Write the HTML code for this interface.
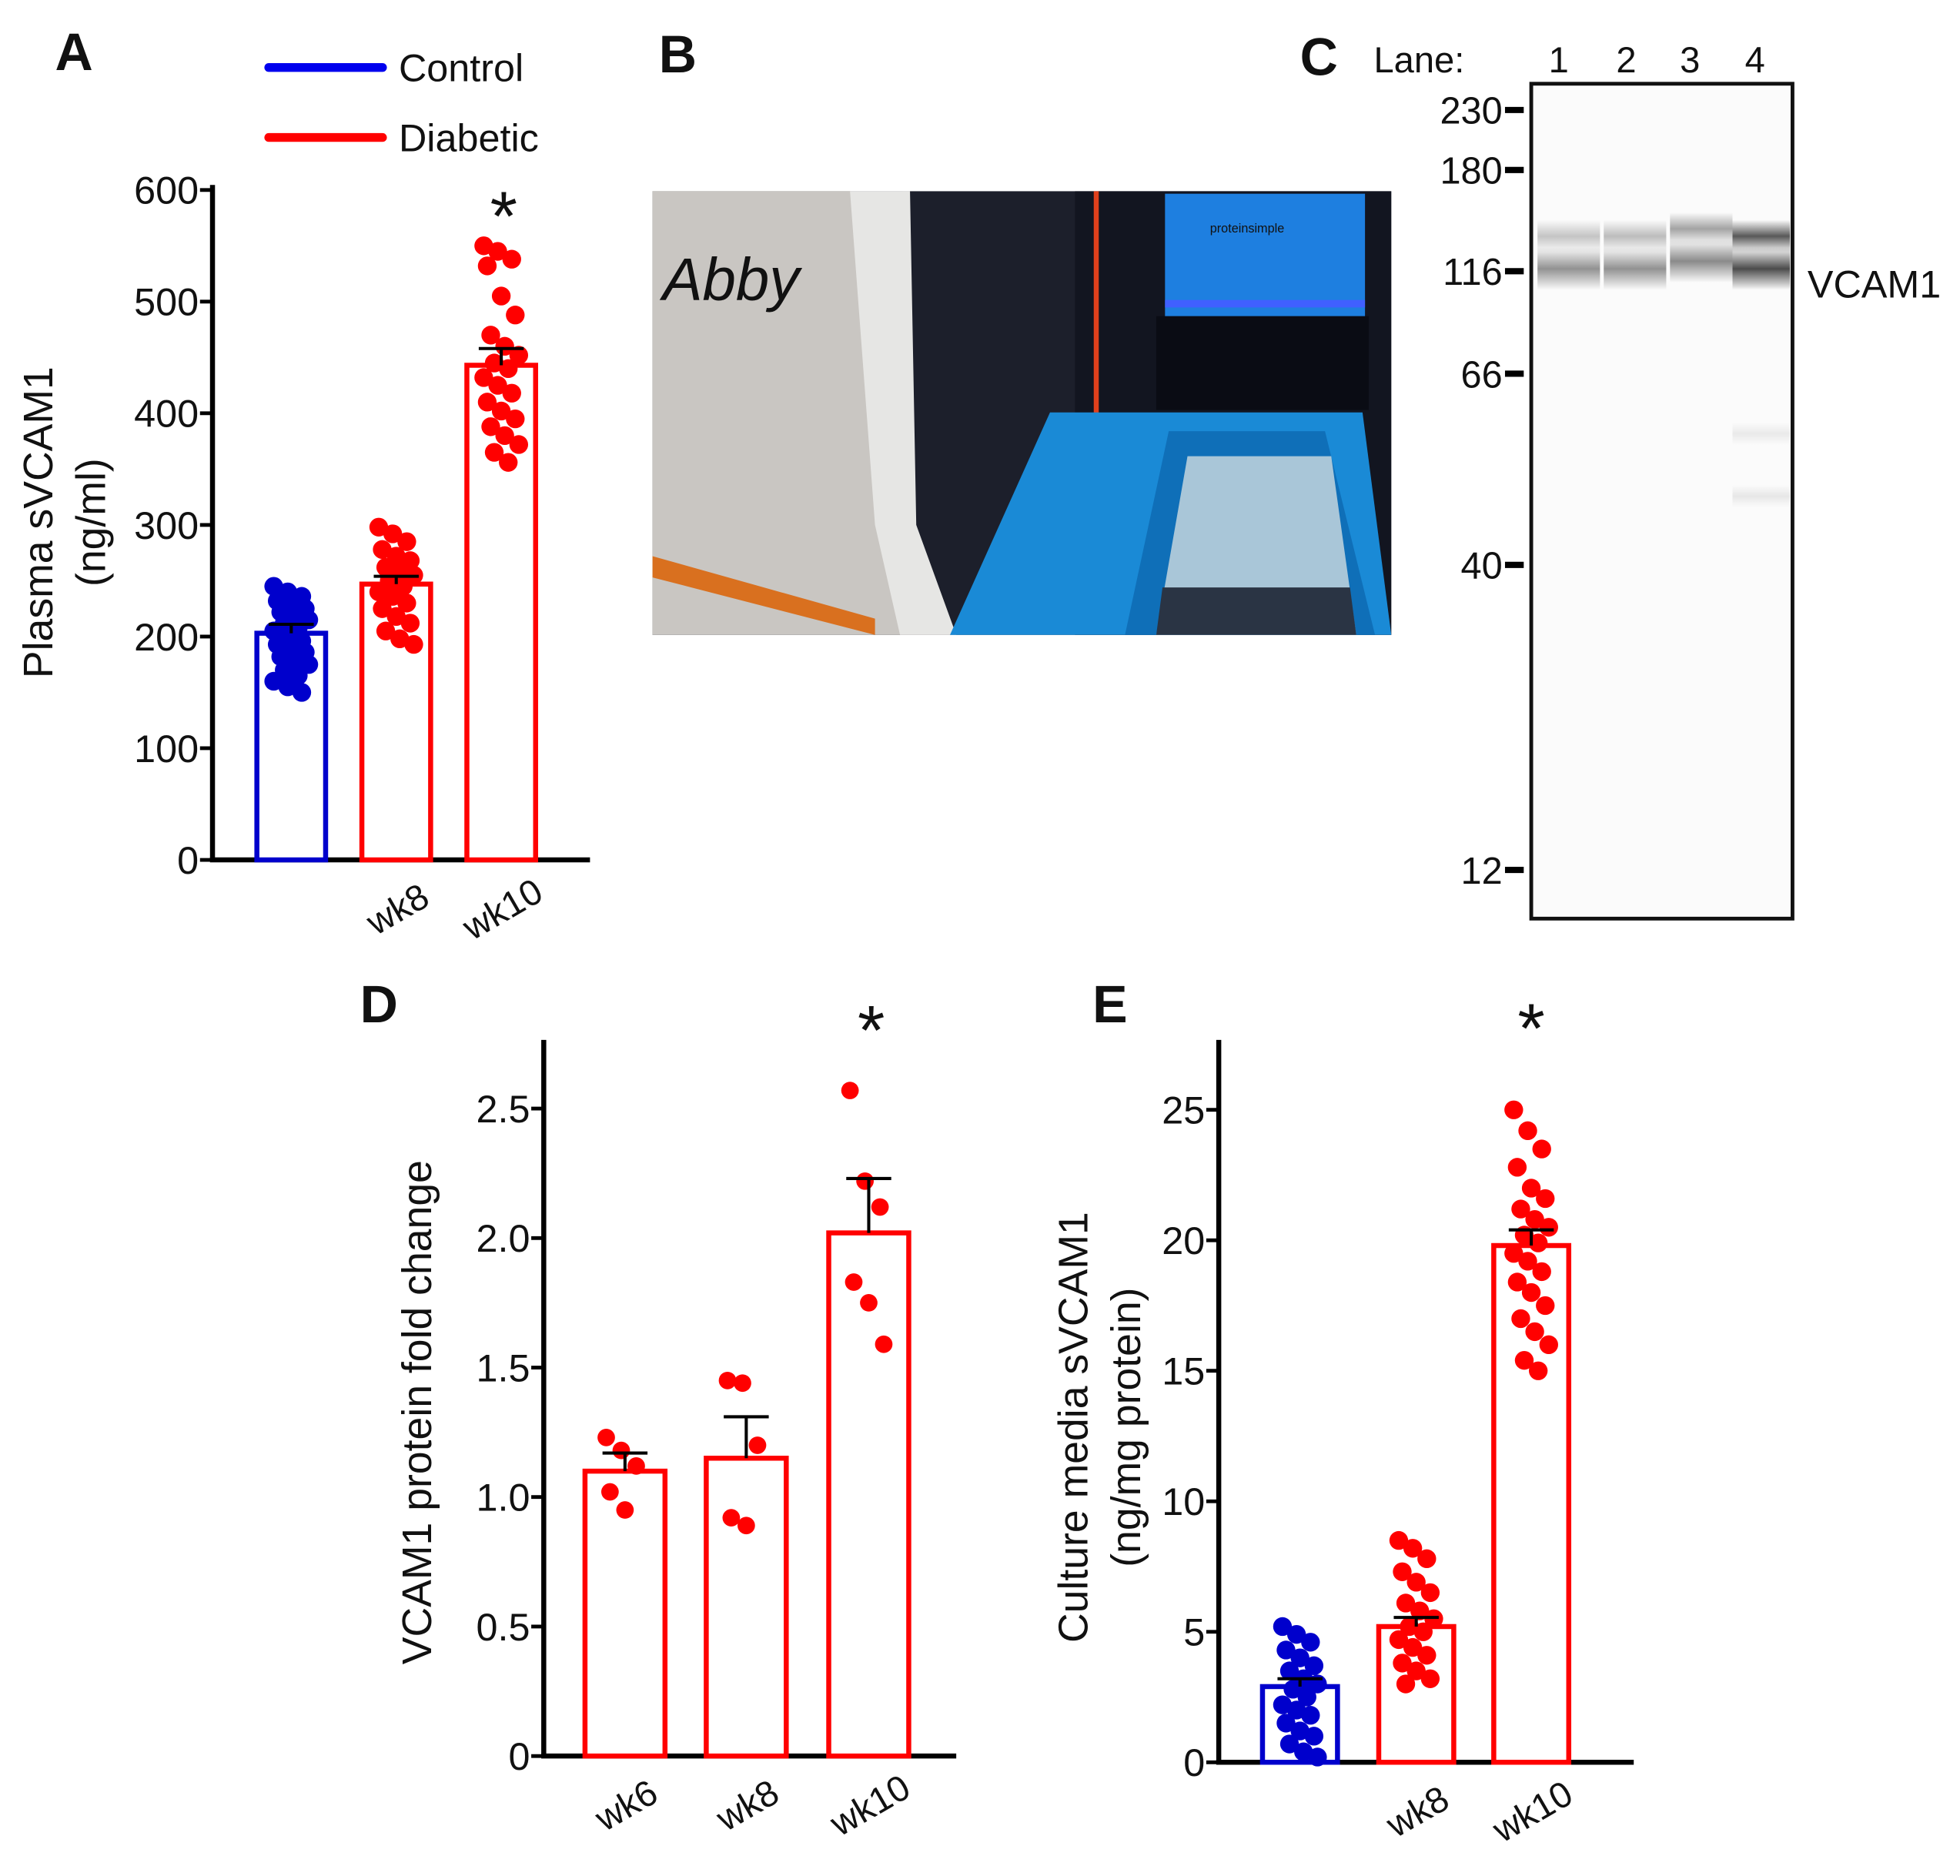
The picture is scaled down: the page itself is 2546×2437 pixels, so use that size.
<!DOCTYPE html>
<html><head><meta charset="utf-8">
<style>
html,body{margin:0;padding:0;background:#fff;}
svg{display:block;}
text{font-family:"Liberation Sans",Arial,sans-serif;fill:#111;}
</style></head>
<body>
<svg id="fig" width="2546" height="2437" viewBox="0 0 1568 1501" preserveAspectRatio="none" xmlns="http://www.w3.org/2000/svg">
<rect x="0" y="0" width="1568" height="1501" fill="#fff"/>
<text x="44" y="56" font-size="42" font-weight="bold">A</text>
<text x="527" y="58" font-size="42" font-weight="bold">B</text>
<text x="1040" y="60" font-size="42" font-weight="bold">C</text>
<text x="288" y="818" font-size="42" font-weight="bold">D</text>
<text x="874" y="818" font-size="42" font-weight="bold">E</text>

<g>
<line x1="215" y1="54" x2="306" y2="54" stroke="#0000ee" stroke-width="7" stroke-linecap="round"/>
<text x="319" y="65" font-size="31">Control</text>
<line x1="215" y1="110" x2="306" y2="110" stroke="#ff0000" stroke-width="7" stroke-linecap="round"/>
<text x="319" y="121" font-size="31">Diabetic</text>
</g>

<g>
<rect x="522" y="153" width="591" height="355" fill="#1c1f2b"/>
<rect x="860" y="153" width="253" height="355" fill="#121520"/>
<polygon points="522,153 722,153 727,430 760,508 522,508" fill="#c9c6c2"/>
<polygon points="680,153 728,153 733,420 765,508 720,508 700,420" fill="#e6e6e4"/>
<polygon points="522,445 700,495 700,508 522,462" fill="#d9701f"/>
<text x="530" y="240" font-size="48" font-family="'DejaVu Serif',serif" font-style="italic" fill="#333">Abby</text>
<rect x="875" y="153" width="4" height="210" fill="#e0401c"/>
<rect x="932" y="155" width="160" height="98" fill="#1e7fe0"/>
<text x="968" y="186" font-size="10" fill="#fff">proteinsimple</text>
<rect x="932" y="240" width="160" height="6" fill="#4060ff"/>
<rect x="925" y="253" width="170" height="75" fill="#0a0c14"/>
<polygon points="760,508 840,330 1090,330 1113,508" fill="#1a8ad6"/>
<polygon points="900,508 935,345 1060,345 1100,508" fill="#0f6fb8"/>
<polygon points="925,508 950,365 1065,365 1085,508" fill="#a9c6d8"/>
<polygon points="925,508 930,470 1080,470 1085,508" fill="#2a3444"/>
</g>

<g id="gel">
<text x="1099" y="58" font-size="29">Lane:</text>
<defs>
<linearGradient id="bg1" x1="0" y1="0" x2="0" y2="1">
<stop offset="0" stop-color="#000" stop-opacity="0"/><stop offset="0.5" stop-color="#000" stop-opacity="1"/><stop offset="1" stop-color="#000" stop-opacity="0"/>
</linearGradient>
</defs>
<rect x="1225" y="67" width="209" height="668" fill="#fbfbfb" stroke="#111" stroke-width="3"/>
<text x="1446" y="238" font-size="31">VCAM1</text>
</g>

<g id="chartA"></g>
<g id="chartD"></g>
<g id="chartE"></g>
</svg>
<script>
const NS="http://www.w3.org/2000/svg";
const aCategories=["Control","wk8","wk10"];
const aMeans=[203,247,443];
const aSem=[8,7,15];
const aControlDots=[245,240,236,232,228,225,222,218,215,212,208,205,200,196,193,190,186,182,178,175,170,165,160,155,150];
const aWk8Dots=[298,292,285,278,272,268,262,258,255,250,245,240,236,230,225,218,212,205,198,193];
const aWk10Dots=[550,545,538,532,505,488,470,460,452,445,440,432,425,418,410,402,395,388,380,372,365,356];
const aTicks=[0,100,200,300,400,500,600];
const dCategories=["wk6","wk8","wk10"];
const dMeans=[1.10,1.15,2.02];
const dSem=[0.07,0.16,0.21];
const dWk6Dots=[1.23,1.18,1.12,1.02,0.95];
const dWk8Dots=[1.45,1.44,1.20,0.92,0.89];
const dWk10Dots=[2.57,2.22,2.12,1.83,1.75,1.59];
const dTicks=[0,0.5,1.0,1.5,2.0,2.5];
const dTickLabels=["0","0.5","1.0","1.5","2.0","2.5"];
const eCategories=["Control","wk8","wk10"];
const eMeans=[2.9,5.2,19.8];
const eSem=[0.3,0.35,0.6];
const eControlDots=[5.2,4.9,4.6,4.3,4.0,3.7,3.5,3.2,3.0,2.8,2.5,2.2,2.0,1.8,1.5,1.2,1.0,0.7,0.4,0.2];
const eWk8Dots=[8.5,8.2,7.8,7.3,6.9,6.5,6.1,5.8,5.5,5.2,5.0,4.7,4.4,4.1,3.8,3.5,3.2,3.0];
const eWk10Dots=[25.0,24.2,23.5,22.8,22.0,21.6,21.2,20.8,20.5,20.2,19.9,19.5,19.2,18.8,18.4,18.0,17.5,17.0,16.5,16.0,15.4,15.0];
const eTicks=[0,5,10,15,20,25];
const markerLabels=["230","180","116","66","40","12"];
const markerKDa=[230,180,116,66,40,12];
const laneNames=["1","2","3","4"];
const bandUpperIntensity=[0.22,0.25,0.35,0.65];
const bandLowerIntensity=[0.42,0.42,0.45,0.7];

function el(tag,attrs,parent){const e=document.createElementNS(NS,tag);for(const k in attrs)e.setAttribute(k,attrs[k]);parent.appendChild(e);return e;}
function txt(parent,x,y,s,size,anchor,extra){const t=el('text',Object.assign({x:x,y:y,'font-size':size,'text-anchor':anchor||'start'},extra||{}),parent);t.textContent=s;return t;}

function barChart(cfg){
  const g=document.getElementById(cfg.id);
  const yS=v=>cfg.y0-(v-cfg.vmin)/(cfg.vmax-cfg.vmin)*(cfg.y0-cfg.yTop);
  const ya=el('line',{x1:cfg.ax,y1:cfg.axTop,x2:cfg.ax,y2:cfg.y0,stroke:'#000','stroke-width':4},g);
  
  
  const xa=el('line',{x1:cfg.ax-2,y1:cfg.y0,x2:cfg.axRight,y2:cfg.y0,stroke:'#000','stroke-width':4},g);
  
  
  cfg.ticks.forEach((v,i)=>{
    const y=yS(v);
    const tk=el('line',{x1:cfg.ax-10,y1:y,x2:cfg.ax,y2:y,stroke:'#000','stroke-width':3},g);
    
    
    const tl=txt(g,cfg.ax-11,y+11,cfg.tickLabels?cfg.tickLabels[i]:String(v),31,'end');
    
    
  });
  cfg.means.forEach((m,i)=>{
    const cx=cfg.centers[i], w=cfg.barW, col=cfg.colors[i];
    const r=el('rect',{x:cx-w/2,y:yS(m),width:w,height:cfg.y0-yS(m),fill:'#fff',stroke:col,'stroke-width':4},g);
    
    
    cfg.dots[i].forEach((v,j)=>{
      const off=((j*37)%11-5)*cfg.jit;
      const c=el('circle',{cx:cx+off,cy:yS(v),r:cfg.dotR,fill:col},g);
      
      
    });
    const top=yS(m+cfg.sem[i]);
    const eb=el('path',{d:`M${cx},${yS(m)} L${cx},${top} M${cx-18},${top} L${cx+18},${top}`,stroke:'#000','stroke-width':2.5,fill:'none'},g);
    
    
    if(cfg.xlabels[i]){
      const lx=cx+6, ly=cfg.y0+48;
      const t=txt(g,lx,ly,cfg.xlabels[i],29,'middle',{transform:`rotate(-30 ${lx} ${ly})`});
      
      
    }
  });
  const star=txt(g,cfg.starX,yS(cfg.starV),'*',56,'middle');
  
  
  cfg.titles.forEach(t=>{
    const tt=txt(g,t.x,cfg.titleY,t.s,33,'middle',{transform:`rotate(-90 ${t.x} ${cfg.titleY})`});
    
    
  });
}
barChart({id:'chartA',ax:170,axTop:148,axRight:472,y0:688,yTop:152,vmin:0,vmax:600,ticks:aTicks,
  cats:aCategories,means:aMeans,sem:aSem,dots:[aControlDots,aWk8Dots,aWk10Dots],centers:[233,317,401],barW:55,
  colors:['#0000cc','#ff0000','#ff0000'],jit:2.8,dotR:7.5,xlabels:[null,'wk8','wk10'],starX:403,starV:555,
  titles:[{x:42,s:'Plasma sVCAM1'},{x:84,s:'(ng/ml)'}],titleY:418});
barChart({id:'chartD',ax:435,axTop:832,axRight:765,y0:1405,yTop:887,vmin:0,vmax:2.5,ticks:dTicks,tickLabels:dTickLabels,
  cats:dCategories,means:dMeans,sem:dSem,dots:[dWk6Dots,dWk8Dots,dWk10Dots],centers:[500,597,695],barW:64,
  colors:['#ff0000','#ff0000','#ff0000'],jit:3,dotR:7,xlabels:['wk6','wk8','wk10'],starX:697,starV:2.57+0.14,
  titles:[{x:345,s:'VCAM1 protein fold change'}],titleY:1130});
barChart({id:'chartE',ax:975,axTop:832,axRight:1307,y0:1410,yTop:888,vmin:0,vmax:25,ticks:eTicks,
  cats:eCategories,means:eMeans,sem:eSem,dots:[eControlDots,eWk8Dots,eWk10Dots],centers:[1040,1133,1225],barW:60,
  colors:['#0000cc','#ff0000','#ff0000'],jit:2.8,dotR:7.5,xlabels:[null,'wk8','wk10'],starX:1225,starV:27.2,
  titles:[{x:870,s:'Culture media sVCAM1'},{x:912,s:'(ng/mg protein)'}],titleY:1142});

(function(){
  const g=document.getElementById('gel');
  const mwY=[88,136,217,299,452,696];
  markerLabels.forEach((s,i)=>{
    const y=mwY[i];
    const t=txt(g,1202,y+11,s,30,'end');
    
    
    const d=el('line',{x1:1204,y1:y,x2:1219,y2:y,stroke:'#000','stroke-width':5},g);
    
    
  });
  const laneX=[1230,1283,1336,1386], laneW=[50,50,50,46];
  const lx=[1247,1301,1352,1404];
  laneNames.forEach((s,i)=>{
    const t=txt(g,lx[i],58,s,29,'middle');
    
    
    const off=i===2?-6:0;
    const b1=el('rect',{x:laneX[i],y:176+off,width:laneW[i],height:26,fill:'url(#bg1)',opacity:bandUpperIntensity[i]},g);
    
    
    const b2=el('rect',{x:laneX[i],y:198+off,width:laneW[i],height:34,fill:'url(#bg1)',opacity:bandLowerIntensity[i]},g);
    
    
  });
  el('rect',{x:1386,y:338,width:46,height:18,fill:'url(#bg1)',opacity:0.07},g);
  el('rect',{x:1386,y:388,width:46,height:18,fill:'url(#bg1)',opacity:0.08},g);
})();
</script>
</body></html>
